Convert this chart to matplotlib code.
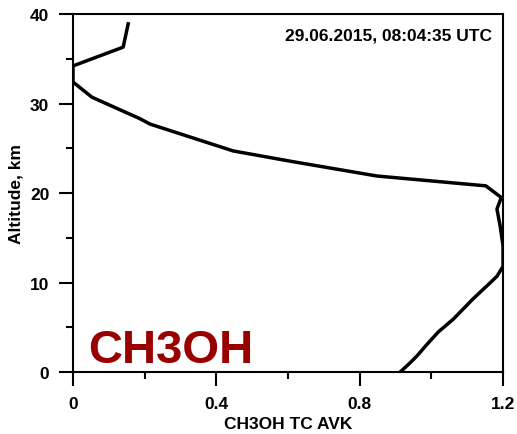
import numpy as np
import matplotlib.pyplot as plt
from matplotlib.ticker import MultipleLocator

plt.rcParams['font.family'] = ['Liberation Sans', 'DejaVu Sans']
plt.rcParams['font.weight'] = 'bold'

# Perfil del AVK de la columna total de CH3OH
altitud = [0.0, 1.0, 1.8, 3.1, 4.5, 5.9, 8.2, 10.0, 10.7, 11.8, 14.1, 16.3,
           18.2, 19.5, 20.8, 21.9, 23.5, 24.7, 27.7, 28.3, 30.7, 32.4, 34.2,
           36.3, 38.9]
avk = [0.913, 0.94, 0.96, 0.988, 1.02, 1.061, 1.117, 1.165, 1.183, 1.2, 1.2,
       1.192, 1.183, 1.195, 1.152, 0.848, 0.614, 0.447, 0.215, 0.187, 0.053,
       0.0, 0.0, 0.14, 0.154]

fecha = '29.06.2015, 08:04:35 UTC'
especie = 'CH3OH'

fig = plt.figure(figsize=(5.17, 4.35), dpi=100)
ax = fig.add_axes([0.1412, 0.1425, 0.8318, 0.823])

ax.plot(avk, altitud, color='black', lw=2.5, solid_joinstyle='round')

ax.set_xlim(0, 1.2)
ax.set_ylim(0, 40)
ax.xaxis.set_major_locator(MultipleLocator(0.4))
ax.xaxis.set_minor_locator(MultipleLocator(0.2))
ax.yaxis.set_major_locator(MultipleLocator(10))
ax.yaxis.set_minor_locator(MultipleLocator(5))
ax.set_xticks([0, 0.4, 0.8, 1.2], ['0', '0.4', '0.8', '1.2'])

for s in ax.spines.values():
    s.set_linewidth(1.5)
ax.tick_params(which='major', length=10, width=1.5, labelsize=12.5, pad=7)
ax.tick_params(which='minor', length=5, width=1.5)

ax.set_xlabel('CH3OH TC AVK', fontsize=12.5, fontweight='bold', labelpad=4)
ax.set_ylabel('Altitude, km', fontsize=12.5, fontweight='bold', labelpad=5)

# Fecha y nombre de la especie
ax.text(0.975, 0.94, fecha, transform=ax.transAxes, ha='right', va='center',
        fontsize=12.5, fontweight='bold')
ax.text(0.035, 0.028, especie, transform=ax.transAxes, ha='left',
        va='baseline', fontsize=34, fontweight='bold', color='#990000')

fig.savefig('out.png', dpi=100)
